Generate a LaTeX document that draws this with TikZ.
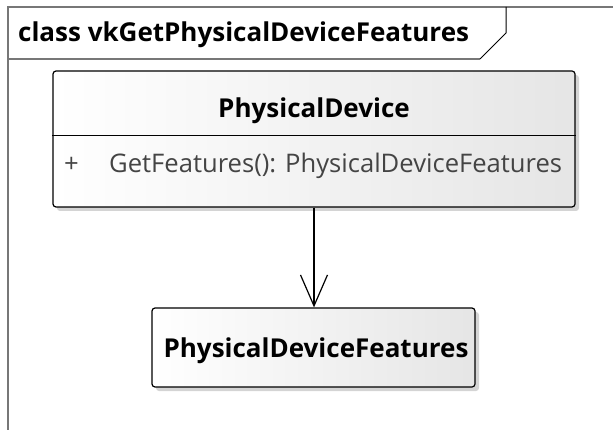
\documentclass[tikz,border=0pt]{standalone}
\usepackage{fontspec}
\setmainfont{Open Sans}
\usetikzlibrary{arrows.meta}
\definecolor{framegray}{HTML}{777777}
\definecolor{attrgray}{HTML}{444444}
\definecolor{shadegray}{HTML}{D4D4D4}
\tikzset{
  classbox/.style={draw=black, line width=1.2pt, rounded corners=3pt,
    left color=white, right color=black!10, inner sep=0pt},
  boxshade/.style={fill=shadegray, rounded corners=3pt},
  titletext/.style={font=\bfseries\fontsize{26}{30}\selectfont, text=black, inner sep=0pt},
  attrtext/.style={font=\fontsize{25.6}{30}\selectfont, text=attrgray, inner sep=0pt, anchor=base west},
  assoc/.style={draw=black, line width=1.2pt, -{Straight Barb[length=31pt,width=27pt,line width=1.2pt]}},
}
\begin{document}
\begin{tikzpicture}[x=1pt, y=-1pt]
  \useasboundingbox (0,0) rectangle (613,430);
  % diagram frame and its name tab
  \draw[framegray, line width=1.4pt] (8,431) -- (8,7) -- (614,7);
  \draw[framegray, line width=1.2pt] (8,59) -- (480,59);
  \draw[black, line width=1pt] (480,59) -- (506,33) -- (506,7);
  \node[titletext, anchor=base west] (frametitle) at (18,42) {class vkGetPhysicalDeviceFeatures};
  % class PhysicalDevice
  \fill[boxshade] (57,75) rectangle (579,211);
  \node[classbox, minimum width=522pt, minimum height=136pt] (pd) at (314,139) {};
  \draw[black, line width=1pt] (pd.west |- 0,136) -- (pd.east |- 0,136);
  \node[titletext, anchor=base] (pdname) at (314,118) {PhysicalDevice};
  \node[attrtext] (pdvis) at (64,173) {+};
  \node[attrtext] (pdop) at (109,173) {GetFeatures(): PhysicalDeviceFeatures};
  % class PhysicalDeviceFeatures
  \fill[boxshade] (156,312) rectangle (479,391);
  \node[classbox, minimum width=323pt, minimum height=79pt] (pdf) at (313.5,347.5) {};
  \node[titletext, anchor=base] (pdfname) at (316,357) {PhysicalDeviceFeatures};
  % association
  \draw[assoc] (pd.south -| 314,0) -- (pdf.north -| 314,0);
\end{tikzpicture}
\end{document}
